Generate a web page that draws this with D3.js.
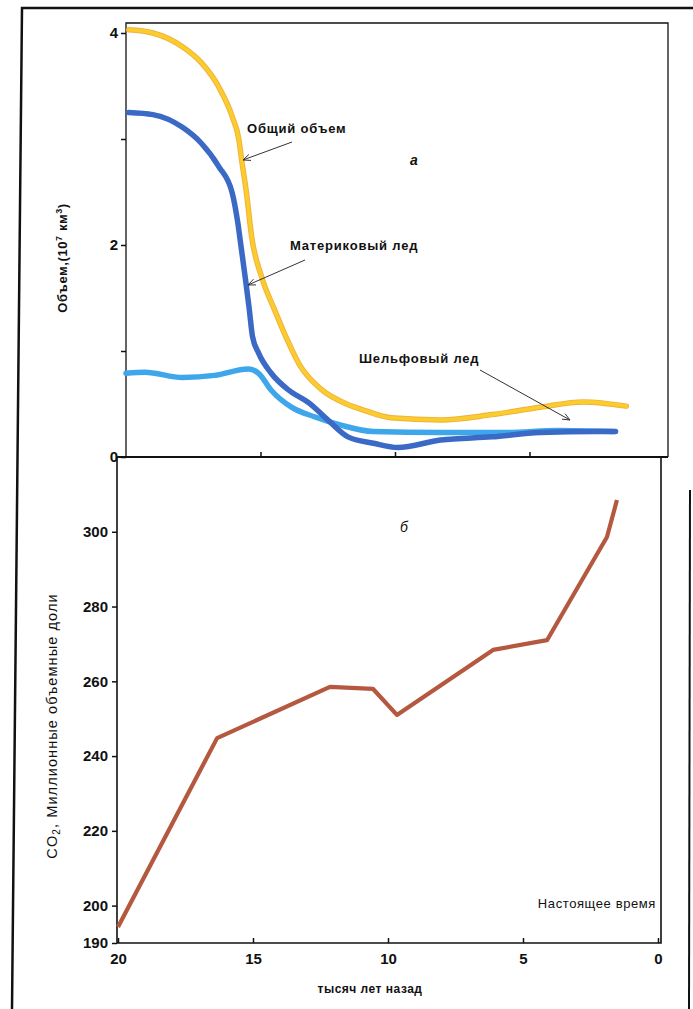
<!DOCTYPE html>
<html>
<head>
<meta charset="utf-8">
<script src="https://cdn.jsdelivr.net/npm/d3@7"></script>
<style>
  body { margin: 0; background: #fff; }
  svg { display: block; }
  text { font-family: "Liberation Sans", Arial, sans-serif; fill: #111; }
</style>
</head>
<body>
<script>
var width = 693
var height = 1009

// top panel (a): ice volume, 10^7 km^3, vs thousand years ago
var totalYears = [19.9, 19.0, 17.9, 17.2, 16.55, 16.05, 15.8, 15.7, 15.52, 15.33, 14.96, 14.48, 14.1, 13.5, 12.75, 11.8, 11.25, 10.15, 8.3, 6.4, 4.6, 3.0, 1.4]
var totalVol = [4.03, 4.0, 3.87, 3.72, 3.49, 3.21, 2.99, 2.80, 2.49, 2.08, 1.70, 1.39, 1.16, 0.85, 0.64, 0.50, 0.45, 0.37, 0.35, 0.40, 0.47, 0.52, 0.48]

var contYears = [19.9, 19.0, 17.9, 17.2, 16.55, 16.05, 15.85, 15.72, 15.55, 15.42, 15.3, 15.07, 14.6, 13.95, 13.2, 12.5, 11.75, 10.8, 9.9, 8.3, 6.4, 4.6, 2.5, 1.8]
var contVol = [3.25, 3.23, 3.11, 2.96, 2.74, 2.49, 2.22, 1.98, 1.66, 1.40, 1.14, 0.98, 0.79, 0.63, 0.51, 0.35, 0.19, 0.13, 0.09, 0.16, 0.19, 0.23, 0.24, 0.24]

var shelfYears = [20, 19.3, 17.9, 16.7, 15.45, 15.07, 14.6, 13.85, 13.0, 12.0, 10.8, 8.3, 5.8, 3.95, 1.9]
var shelfVol = [0.79, 0.80, 0.75, 0.77, 0.83, 0.79, 0.63, 0.47, 0.38, 0.30, 0.24, 0.23, 0.23, 0.25, 0.24]

// bottom panel (b): CO2, ppm
var co2Years = [20, 16.33, 12.15, 10.56, 9.67, 6.11, 4.11, 1.89, 1.52]
var co2Ppm = [194.3, 244.8, 258.5, 258, 251, 268.4, 271, 298.6, 308.5]

var volTicks = [0, 1, 2, 3, 4]
var volLabels = [0, 2, 4]
var co2Ticks = [190, 200, 220, 240, 260, 280, 300]
var yearTicks = [20, 15, 10, 5, 0]

const svg = d3.select("body").append("svg").attr("width", width).attr("height", height)

// outer scanned frame
svg.append("path").attr("d", "M12,1009 L22,8 L693,8").attr("fill", "none").attr("stroke", "#111").attr("stroke-width", 2.5)
svg.append("line").attr("x1", 690).attr("x2", 689).attr("y1", 490).attr("y2", 1009).attr("stroke", "#111").attr("stroke-width", 2)

const xTop = d3.scaleLinear().domain([20, 0]).range([126, 664])
const yTop = d3.scaleLinear().domain([0, 4]).range([457, 33])
const xBot = d3.scaleLinear().domain([20, 0]).range([118, 658])
const yBot = d3.scaleLinear().domain([190, 320]).range([943, 457])

// panel frames
svg.append("path").attr("d", "M126,457 V23 H668 V457").attr("fill", "none").attr("stroke", "#111").attr("stroke-width", 1.3)
svg.append("path").attr("d", "M117,457 H668").attr("stroke", "#111").attr("stroke-width", 1.8)
svg.append("path").attr("d", "M661,457 V943 H117 V457").attr("fill", "none").attr("stroke", "#111").attr("stroke-width", 1.6)

function styleAxis(g, size) {
  g.select(".domain").remove()
  g.selectAll("line").attr("stroke", "#111").attr("stroke-width", 1.5)
  g.selectAll("text").attr("font-size", size).attr("font-weight", "bold").attr("fill", "#111").attr("font-family", "Liberation Sans, Arial, sans-serif")
}

svg.append("g").attr("transform", "translate(126,0)")
  .call(d3.axisLeft(yTop).tickValues(volTicks).tickSize(5).tickPadding(3)
    .tickFormat(d => volLabels.includes(d) ? d : ""))
  .call(g => styleAxis(g, 15))

svg.append("g").attr("transform", "translate(0,457)")
  .call(d3.axisBottom(xTop).tickValues([15, 10, 5]).tickSize(-5).tickFormat(""))
  .call(g => styleAxis(g, 15))

svg.append("g").attr("transform", "translate(117,0)")
  .call(d3.axisLeft(yBot).tickValues(co2Ticks).tickSize(5).tickPadding(4))
  .call(g => styleAxis(g, 15))

svg.append("g").attr("transform", "translate(0,943)")
  .call(d3.axisBottom(xBot).tickValues(yearTicks).tickSize(-5).tickPadding(10))
  .call(g => styleAxis(g, 15))

// curves
const smooth = (xs, ys) => d3.line().curve(d3.curveMonotoneX)
  .x((d, i) => xTop(xs[i])).y(d => yTop(d))(ys)

svg.append("path").attr("d", smooth(shelfYears, shelfVol))
  .attr("fill", "none").attr("stroke", "#3ea6ea").attr("stroke-width", 5.5).attr("stroke-linecap", "round")
svg.append("path").attr("d", smooth(contYears, contVol))
  .attr("fill", "none").attr("stroke", "#3a69c6").attr("stroke-width", 5.5).attr("stroke-linecap", "round")
svg.append("path").attr("d", smooth(totalYears, totalVol))
  .attr("fill", "none").attr("stroke", "#f3b03c").attr("stroke-width", 5.5).attr("stroke-linecap", "round")
svg.append("path").attr("d", smooth(totalYears, totalVol))
  .attr("fill", "none").attr("stroke", "#f9cd2d").attr("stroke-width", 3.6).attr("stroke-linecap", "round")

const co2Line = d3.line().x((d, i) => xBot(co2Years[i])).y(d => yBot(d))
svg.append("path").attr("d", co2Line(co2Ppm))
  .attr("fill", "none").attr("stroke", "#b4583f").attr("stroke-width", 4.2).attr("stroke-linejoin", "round")

// annotations with arrows
function arrow(x1, y1, x2, y2) {
  const a = Math.atan2(y2 - y1, x2 - x1), l = 8, w = 0.4
  svg.append("line").attr("x1", x1).attr("y1", y1).attr("x2", x2).attr("y2", y2).attr("stroke", "#333").attr("stroke-width", 1)
  svg.append("path")
    .attr("d", `M${x2 - l * Math.cos(a - w)},${y2 - l * Math.sin(a - w)} L${x2},${y2} L${x2 - l * Math.cos(a + w)},${y2 - l * Math.sin(a + w)}`)
    .attr("fill", "none").attr("stroke", "#333").attr("stroke-width", 1)
}

function label(x, y, txt, opts = {}) {
  return svg.append("text").attr("x", x).attr("y", y).text(txt)
    .attr("font-size", opts.size || 13).attr("font-weight", opts.weight || "bold")
    .attr("letter-spacing", opts.ls || 0.8).attr("text-anchor", opts.anchor || "start")
    .attr("font-style", opts.style || "normal")
}

label(247, 133, "Общий объем")
arrow(292, 142, 243, 160)
label(290, 250, "Материковый лед")
arrow(305, 260, 248, 285)
label(359, 363, "Шельфовый лед")
arrow(480, 370, 570, 420)
label(410, 165, "а", { style: "italic", size: 14, ls: 0 })
label(400, 532, "б", { style: "italic", size: 14, ls: 0, weight: "normal" })
label(656, 908, "Настоящее время", { anchor: "end", weight: "normal", ls: 0.6 })
label(370, 993, "тысяч лет назад", { anchor: "middle", size: 12, ls: 0.5 })

// axis titles
const t1 = svg.append("text").attr("transform", "translate(67,258) rotate(-90)")
  .attr("text-anchor", "middle").attr("font-size", 13).attr("font-weight", "bold").attr("letter-spacing", 0.6)
t1.append("tspan").text("Объем,(10")
t1.append("tspan").text("7").attr("font-size", 9).attr("dy", -5)
t1.append("tspan").text(" км").attr("dy", 5)
t1.append("tspan").text("3").attr("font-size", 9).attr("dy", -5)
t1.append("tspan").text(")").attr("dy", 5)

const t2 = svg.append("text").attr("transform", "translate(57,726) rotate(-90)")
  .attr("text-anchor", "middle").attr("font-size", 14.5).attr("letter-spacing", 1.1)
t2.append("tspan").text("CO")
t2.append("tspan").text("2").attr("font-size", 10).attr("dy", 3)
t2.append("tspan").text(",  Миллионные объемные доли").attr("dy", -3)
</script>
</body>
</html>
